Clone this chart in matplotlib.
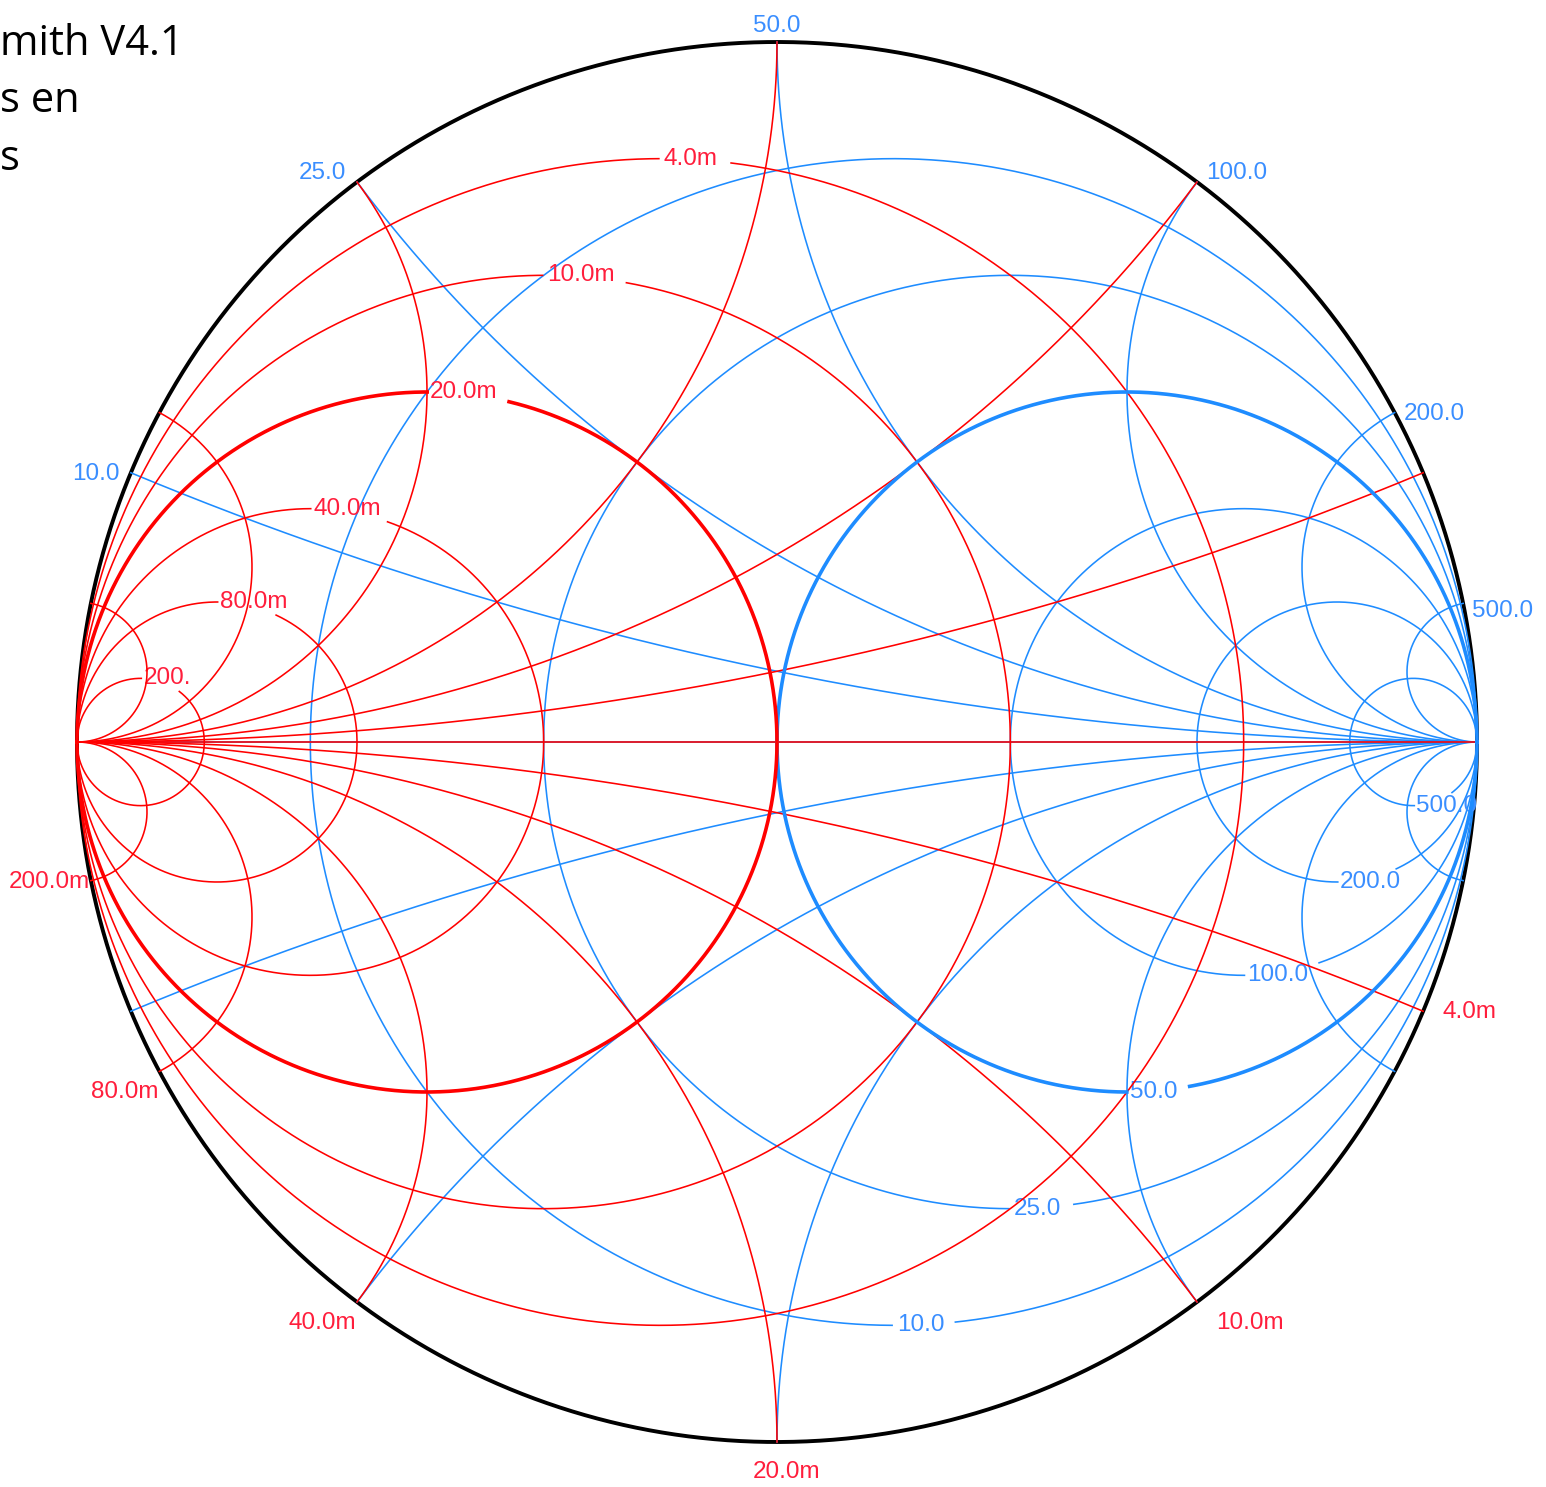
import matplotlib.pyplot as plt
import numpy as np

# reference impedance and grid values
z0 = 50.0
resistance = [10.0, 25.0, 50.0, 100.0, 200.0, 500.0]       # ohm
reactance = [10.0, 25.0, 50.0, 100.0, 200.0, 500.0]        # ohm
conductance = [4e-3, 10e-3, 20e-3, 40e-3, 80e-3, 200e-3]   # S
susceptance = [4e-3, 10e-3, 20e-3, 40e-3, 80e-3, 200e-3]   # S

resistance_labels = ['10.0', '25.0', '50.0', '100.0', '200.0', '500.0']
reactance_labels = ['10.0', '25.0', '50.0', '100.0', '200.0', '500.0']
conductance_labels = ['4.0m', '10.0m', '20.0m', '40.0m', '80.0m', '200.']
susceptance_labels = ['4.0m', '10.0m', '20.0m', '40.0m', '80.0m', '200.0m']

header_lines = ['mith V4.1', 's en', 's']

blue = '#1e8cff'
red = '#ff0000'
blue_txt = '#3a8eff'
red_txt = '#ff1e3c'
label_font = dict(family='Liberation Sans', fontsize=17.5)

W, H, scale = 1546, 1487, 700.0   # pixels, pixels per unit of |gamma|
cx, cy = 777.0, 742.0

fig = plt.figure(figsize=(W / 100, H / 100), dpi=100)
ax = fig.add_axes([0, 0, 1, 1])
ax.set_xlim(-cx / scale, (W - cx) / scale)
ax.set_ylim(-(H - cy) / scale, cy / scale)
ax.axis('off')
renderer = fig.canvas.get_renderer()


def gamma_z(z):
    return (z - 1) / (z + 1)


def gamma_y(y):
    return (1 - y) / (1 + y)


t = np.concatenate([[0.0], np.logspace(-4, 5, 4000)])
both = np.concatenate([-t[::-1], t])


def cut_gap(pts, txt, anchor, pad=11):
    # blank the part of a curve that runs under its own label
    bb = txt.get_window_extent(renderer)
    pix = ax.transData.transform(np.column_stack([pts.real, pts.imag]))
    ax_px = ax.transData.transform([[anchor.real, anchor.imag]])[0]
    inside = ((pix[:, 0] > ax_px[0] + 1) & (pix[:, 0] < bb.x1 + pad) &
              (pix[:, 1] > bb.y0 - 2) & (pix[:, 1] < bb.y1 + 2))
    pts = pts.copy()
    pts[inside] = np.nan
    return pts


def rim_label(p, text, color, shift):
    c, s = p.real, p.imag
    if abs(c) < 0.1:
        ha, dx = 'center', 0
    elif c > 0:
        ha, dx = 'left', 9
    else:
        ha, dx = 'right', -11
    if s > 0.6:
        va, dy = 'bottom', (5 if abs(c) < 0.1 else -2)
    elif s < -0.45:
        va, dy = 'top', (-19 if abs(c) < 0.1 else -10)
    else:
        # labels close to the real axis sit a little lower
        va, dy = 'center', (-8 if 0 < s < 0.3 else -1)
    ax.annotate(text, xy=(c, s), xytext=(dx + shift, dy),
                textcoords='offset pixels', ha=ha, va=va, color=color,
                **label_font)


# outer rim
th = np.linspace(0, 2 * np.pi, 1000)
ax.plot(np.cos(th), np.sin(th), color='black', lw=2.8, zorder=1)

# impedance grid (blue)
for r_ohm, lab in zip(resistance, resistance_labels):
    r = r_ohm / z0
    pts = gamma_z(r + 1j * both)
    c, R = r / (1 + r), 1 / (1 + r)
    anchor = complex(c, -R)
    txt = ax.text(anchor.real + 3 / scale, anchor.imag, lab, ha='left',
                  va='center', color=blue_txt, **label_font)
    pts = cut_gap(pts, txt, anchor)
    thick = r == 1.0
    ax.plot(pts.real, pts.imag, color=blue, lw=2.6 if thick else 1.15,
            zorder=4 if thick else 2)

for x_ohm, lab in zip(reactance, reactance_labels):
    x = x_ohm / z0
    for sgn in (1, -1):
        pts = gamma_z(t + 1j * sgn * x)
        ax.plot(pts.real, pts.imag, color=blue, lw=1.15, zorder=2)
    rim_label(gamma_z(1j * x), lab, blue_txt, 0)
ax.plot([-1, 1], [0, 0], color=blue, lw=1.15, zorder=2)

# admittance grid (red)
for g_s, lab in zip(conductance, conductance_labels):
    g = g_s * z0
    pts = gamma_y(g + 1j * both)
    c, R = -g / (1 + g), 1 / (1 + g)
    anchor = complex(c, R)
    txt = ax.text(anchor.real + 3 / scale, anchor.imag, lab, ha='left',
                  va='center', color=red_txt, **label_font)
    pts = cut_gap(pts, txt, anchor)
    thick = g == 1.0
    ax.plot(pts.real, pts.imag, color=red, lw=2.6 if thick else 1.15,
            zorder=5 if thick else 3)

for b_s, lab in zip(susceptance, susceptance_labels):
    b = b_s * z0
    for sgn in (1, -1):
        pts = gamma_y(t + 1j * sgn * b)
        ax.plot(pts.real, pts.imag, color=red, lw=1.15, zorder=3)
    rim_label(gamma_y(1j * b), lab, red_txt, 10)
ax.plot([-1, 1], [0, 0], color=red, lw=1.15, zorder=3)

# slide text running in from the left edge
for i, line in enumerate(header_lines):
    fig.text(0.0, 1 - (55 + 57.5 * i) / H, line, ha='left', va='baseline',
             fontsize=30, family='Open Sans', color='black')

fig.savefig('out.png', dpi=100, facecolor='white')
